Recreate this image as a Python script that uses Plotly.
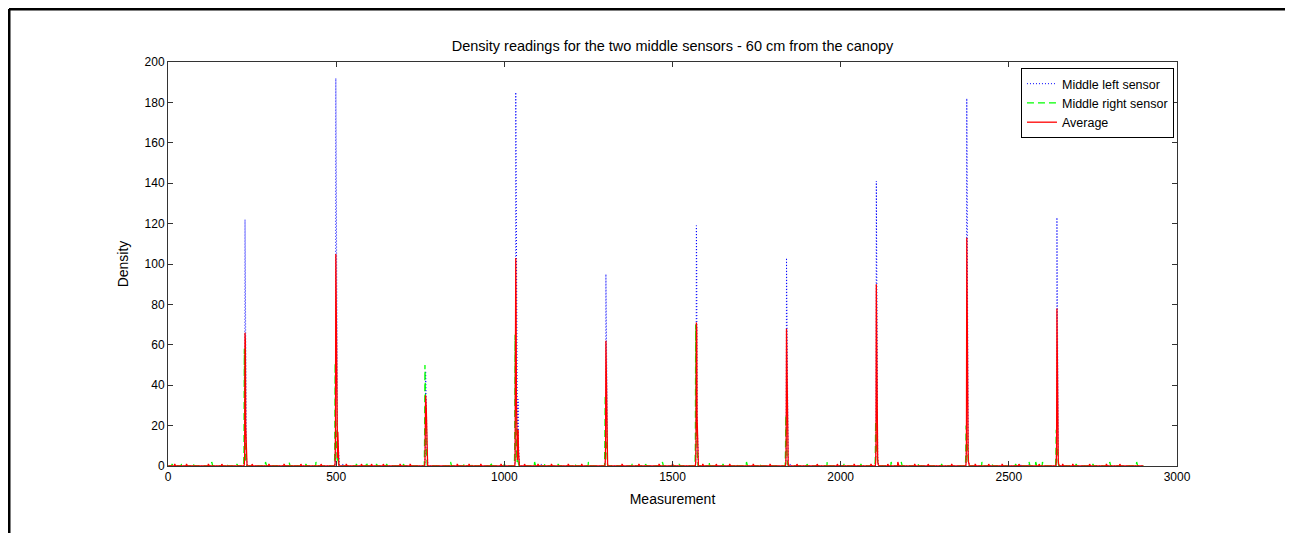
import numpy as np
import plotly.graph_objects as go

# ---- data ----
n_samples = 2900
peak_centers = [229, 499, 766, 1034, 1302, 1571, 1839, 2106, 2375, 2643]
peak_offsets = [-4, -3, -2, -1, 0, 1, 2, 3, 4, 5, 6, 7, 8, 9, 10]

left_peaks = [
    [0, 0, 2, 5, 122, 90, 18, 14, 6, 3, 0, 0, 0, 0, 0],
    [0, 0, 3, 10, 192, 150, 40, 14, 8, 6, 13, 10, 3, 0, 0],
    [0, 0, 2, 10, 47, 42, 30, 22, 8, 3, 0, 0, 0, 0, 0],
    [0, 0, 3, 12, 185, 150, 60, 25, 10, 4, 18, 33, 12, 3, 0],
    [0, 0, 2, 8, 95, 70, 30, 10, 4, 0, 0, 0, 0, 0, 0],
    [0, 0, 2, 10, 119, 100, 25, 12, 5, 2, 0, 0, 0, 0, 0],
    [0, 0, 2, 10, 103, 80, 40, 12, 4, 0, 0, 0, 0, 0, 0],
    [0, 0, 3, 12, 141, 83, 60, 20, 6, 2, 0, 0, 0, 0, 0],
    [0, 0, 3, 10, 182, 120, 37, 20, 8, 3, 0, 0, 0, 0, 0],
    [0, 0, 2, 8, 123, 78, 21, 12, 4, 0, 0, 0, 0, 0, 0],
]
right_peaks = [
    [0, 8, 58, 30, 14, 12, 3, 1, 0, 0, 0, 0, 0, 0, 0],
    [0, 10, 51, 26, 22, 12, 8, 4, 2, 6, 3, 0, 0, 0, 0],
    [0, 15, 50, 38, 25, 22, 8, 3, 1, 0, 0, 0, 0, 0, 0],
    [0, 12, 65, 30, 28, 12, 8, 4, 2, 5, 4, 2, 0, 0, 0],
    [0, 12, 35, 22, 15, 10, 4, 1, 0, 0, 0, 0, 0, 0, 0],
    [0, 10, 70, 30, 20, 20, 8, 3, 1, 0, 0, 0, 0, 0, 0],
    [0, 8, 25, 18, 12, 10, 4, 1, 0, 0, 0, 0, 0, 0, 0],
    [0, 4, 22, 15, 10, 10, 6, 2, 0, 0, 0, 0, 0, 0, 0],
    [0, 6, 20, 19, 15, 10, 5, 2, 0, 0, 0, 0, 0, 0, 0],
    [0, 5, 18, 12, 10, 8, 4, 1, 0, 0, 0, 0, 0, 0, 0],
]
avg_peaks = [
    [0, 0, 1, 6, 66, 62, 20, 10, 4, 2, 0, 0, 0, 0, 0],
    [0, 0, 2, 18, 105, 78, 25, 12, 6, 4, 17, 7, 2, 0, 0],
    [0, 0, 2, 12, 35, 32, 28, 18, 6, 2, 0, 0, 0, 0, 0],
    [0, 0, 2, 33, 103, 80, 33, 18, 8, 3, 12, 18, 7, 2, 0],
    [0, 0, 2, 10, 62, 48, 22, 8, 3, 1, 0, 0, 0, 0, 0],
    [0, 0, 2, 15, 71, 68, 25, 12, 4, 2, 0, 0, 0, 0, 0],
    [0, 0, 2, 11, 68, 50, 30, 10, 3, 1, 0, 0, 0, 0, 0],
    [0, 0, 2, 10, 90, 56, 35, 12, 4, 1, 0, 0, 0, 0, 0],
    [0, 0, 2, 13, 113, 76, 25, 15, 6, 2, 0, 0, 0, 0, 0],
    [0, 0, 2, 9, 78, 57, 15, 8, 3, 1, 0, 0, 0, 0, 0],
]

# small background readings between the peaks
left_noise_x = [520, 1110, 1850, 2535, 2560, 2700]
left_noise_y = [1, 1, 1, 1, 1, 1]
right_noise_x = [12, 40, 75, 130, 175, 205, 290, 360, 372, 410, 440, 560, 590, 620,
                 650, 700, 840, 880, 905, 960, 1000, 1090, 1120, 1160, 1210, 1250,
                 1380, 1420, 1470, 1520, 1610, 1650, 1690, 1720, 1760, 1900, 1960,
                 2010, 2060, 2150, 2180, 2230, 2300, 2420, 2450, 2520, 2560, 2580,
                 2600, 2700, 2750, 2800, 2880]
right_noise_y = [1, 1, 1, 2, 1, 1, 2, 2, 1, 1, 2, 1, 2, 1,
                 1, 1, 2, 1, 1, 2, 1, 2, 1, 1, 1, 2,
                 1, 1, 2, 1, 2, 1, 1, 2, 1, 1, 2,
                 1, 1, 2, 2, 1, 1, 2, 1, 1, 2, 2,
                 2, 1, 1, 2, 2]
avg_noise_x = [20, 55, 120, 160, 250, 300, 345, 395, 455, 530, 575, 605, 640, 690,
               720, 860, 895, 930, 990, 1060, 1100, 1140, 1190, 1230, 1300, 1350,
               1400, 1460, 1500, 1590, 1630, 1670, 1740, 1790, 1870, 1930, 1990,
               2040, 2090, 2140, 2170, 2220, 2260, 2330, 2400, 2440, 2480, 2530,
               2590, 2660, 2690, 2740, 2790, 2830]
avg_noise_y = [1, 1, 1, 1, 1, 1, 1, 1, 1, 1, 1, 1, 1, 1,
               1, 1, 1, 1, 1, 1, 1, 1, 1, 1, 1, 1,
               1, 1, 1, 1, 1, 1, 1, 1, 1, 1, 1,
               1, 1, 1, 2, 1, 1, 1, 1, 1, 1, 1,
               1, 1, 1, 1, 1, 1]

series_names = ["Middle left sensor", "Middle right sensor", "Average"]


def build(peaks, nx, ny):
    y = np.zeros(n_samples)
    for xi, yi in zip(nx, ny):
        y[xi - 1] = yi
    for c, vals in zip(peak_centers, peaks):
        for o, v in zip(peak_offsets, vals):
            y[c + o - 1] = max(y[c + o - 1], v)
    return y


x = np.arange(1, n_samples + 1)
y_left = build(left_peaks, left_noise_x, left_noise_y)
y_right = build(right_peaks, right_noise_x, right_noise_y)
y_avg = build(avg_peaks, avg_noise_x, avg_noise_y)

fig = go.Figure()
fig.add_trace(go.Scatter(x=x, y=y_left, mode="lines", name=series_names[0],
                         line=dict(color="#0000ff", width=1, dash="1px,2px")))
fig.add_trace(go.Scatter(x=x, y=y_right, mode="lines", name=series_names[1],
                         line=dict(color="#00ff00", width=1.3, dash="7px,4px")))
fig.add_trace(go.Scatter(x=x, y=y_avg, mode="lines", name=series_names[2],
                         line=dict(color="#ff0000", width=1.3)))

font_family = "Liberation Sans, Arial, sans-serif"
axis_common = dict(showgrid=False, zeroline=False, showline=True, linecolor="#333333",
                   linewidth=1, mirror="ticks", ticks="inside", ticklen=5,
                   tickcolor="#333333", tickfont=dict(size=12, color="#000000",
                                                      family=font_family))

# figure is placed 8px from the page's top-left corner
W, H = 1285, 525
ML, MT, PW, PH = 160, 54, 1009, 404

fig.update_layout(
    width=W, height=H,
    margin=dict(l=ML, r=W - ML - PW, t=MT, b=H - MT - PH),
    paper_bgcolor="white", plot_bgcolor="white",
    font=dict(family=font_family, color="#000000"),
    title=dict(text="Density readings for the two middle sensors - 60 cm from the canopy",
               x=(ML + PW / 2) / W, xanchor="center", y=1 - 38 / H, yanchor="middle",
               font=dict(size=14.5)),
    xaxis=dict(range=[0, 3000], dtick=500, tick0=0,
               title=dict(text="Measurement", font=dict(size=14), standoff=10),
               **axis_common),
    yaxis=dict(range=[0, 200], dtick=20, tick0=0,
               title=dict(text="Density", font=dict(size=14), standoff=12),
               **axis_common),
    legend=dict(x=0.997, xanchor="right", y=0.985, yanchor="top",
                bordercolor="#000000", borderwidth=1, bgcolor="white",
                font=dict(size=12.5), tracegroupgap=0),
    showlegend=True,
)

# page frame lines (top and left)
top_y = (PH + MT - 1) / PH
left_x = (1 - ML) / PW
fig.add_shape(type="line", xref="paper", yref="paper",
              x0=left_x, x1=(W - ML) / PW, y0=top_y, y1=top_y,
              line=dict(color="black", width=3))
fig.add_shape(type="line", xref="paper", yref="paper",
              x0=left_x, x1=left_x, y0=top_y, y1=-(H - MT - PH) / PH,
              line=dict(color="black", width=3))

fig.write_html("out.html")
